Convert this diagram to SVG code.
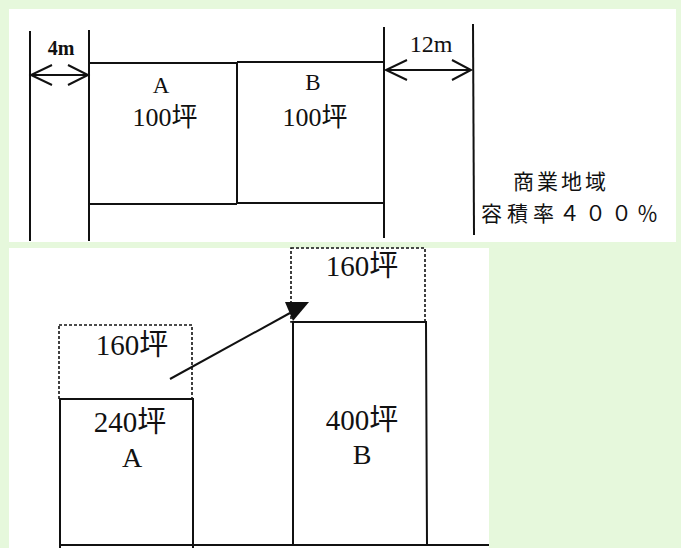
<svg xmlns="http://www.w3.org/2000/svg" width="681" height="548" viewBox="0 0 681 548">
<style>
.ln{stroke:#111;stroke-width:2;fill:none}
.dot{stroke:#111;stroke-width:1.6;fill:none;stroke-dasharray:3 2}
.t{font-family:"Liberation Serif","Noto Sans CJK JP",serif;fill:#111;text-anchor:middle}
.cjk{font-family:"Noto Sans CJK JP","Liberation Serif",sans-serif;fill:#111}
</style>
<rect x="0" y="0" width="681" height="548" fill="#e6f8dc"/>
<rect x="9" y="9" width="667" height="233" fill="#fff"/>
<rect x="9" y="248" width="480" height="300" fill="#fff"/>

<g id="top-roads">
<line class="ln" x1="30" y1="31" x2="30" y2="241"/>
<line class="ln" x1="89" y1="30" x2="89" y2="241"/>
<line class="ln" x1="384" y1="27" x2="384" y2="238"/>
<line class="ln" x1="473" y1="24" x2="474" y2="235"/>
</g>

<g id="lotA-top">
<line class="ln" x1="89" y1="63" x2="237" y2="63"/>
<line class="ln" x1="89" y1="204" x2="237" y2="204"/>
<text class="t" x="161" y="93" font-size="23">A</text>
<text class="t" x="165" y="126" font-size="26">100坪</text>
</g>

<g id="lotB-top">
<line class="ln" x1="237" y1="62" x2="384" y2="62"/>
<line class="ln" x1="237" y1="203" x2="384" y2="203"/>
<line class="ln" x1="237" y1="63" x2="237" y2="204"/>
<text class="t" x="313" y="90" font-size="23">B</text>
<text class="t" x="315" y="126" font-size="26">100坪</text>
</g>

<g id="dim-4m">
<line class="ln" x1="31" y1="75" x2="88" y2="75"/>
<polyline class="ln" points="52,65 31,75 52,85"/>
<polyline class="ln" points="68,65 88,75 68,85"/>
<text class="t" x="61" y="55" font-size="20" font-weight="bold">4m</text>
</g>

<g id="dim-12m">
<line class="ln" x1="386" y1="70" x2="471" y2="70"/>
<polyline class="ln" points="407,60 386,70 407,80"/>
<polyline class="ln" points="452,60 471,70 452,80"/>
<text class="t" x="431" y="52" font-size="24">12m</text>
</g>

<g id="zone-label">
<text class="cjk" x="561" y="189" font-size="21" text-anchor="middle" letter-spacing="3">商業地域</text>
<text class="cjk" x="481" y="221" font-size="21" letter-spacing="5">容積率４００％</text>
</g>

<g id="lotA-bottom">
<rect class="dot" x="59" y="325" width="133" height="74"/>
<polyline class="ln" points="60,548 60,399 193,399 193,548"/>
<text class="t" x="132" y="355" font-size="29">160坪</text>
<text class="t" x="130" y="432" font-size="29">240坪</text>
<text class="t" x="132" y="467" font-size="28">A</text>
</g>

<g id="lotB-bottom">
<rect class="dot" x="291" y="248" width="134" height="74"/>
<polyline class="ln" points="293,546 293,322 426,322 427,546"/>
<text class="t" x="362" y="276" font-size="29">160坪</text>
<text class="t" x="362" y="430" font-size="29">400坪</text>
<text class="t" x="362" y="464" font-size="28">B</text>
</g>

<g id="connectors">
<line class="ln" x1="60" y1="545" x2="489" y2="545"/>
<line class="ln" x1="170" y1="379" x2="290" y2="313"/>
<path d="M285,302 L309,302 L293,321 Z" fill="#111"/>
</g>
</svg>
